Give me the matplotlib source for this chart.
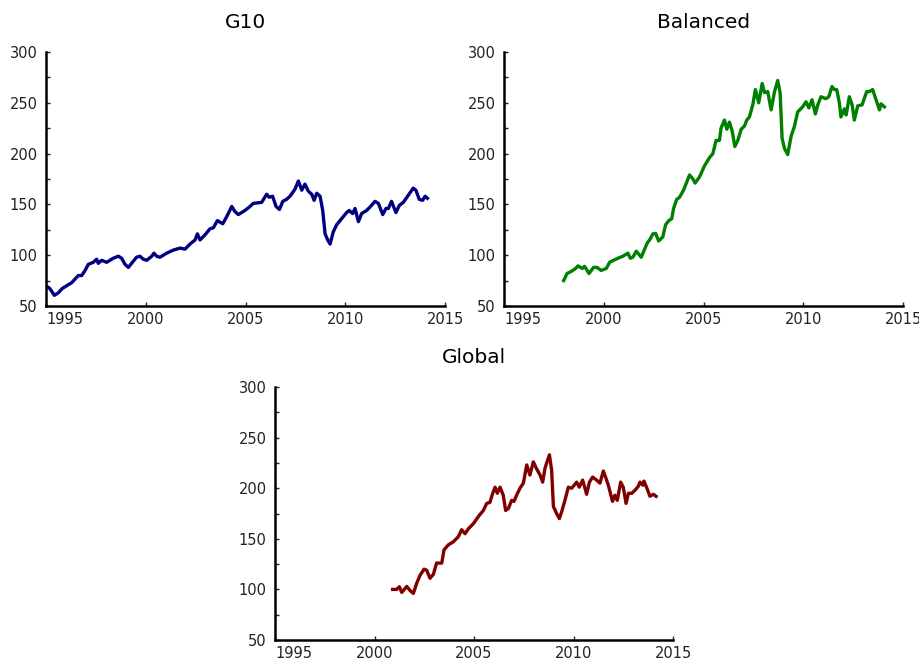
import matplotlib
matplotlib.use("Agg")
import matplotlib.pyplot as plt
from matplotlib.ticker import MultipleLocator

# ---- index levels (decimal year, value) ----
g10_years = [1995.0, 1995.2, 1995.42, 1995.62, 1995.8, 1996.04, 1996.29, 1996.62, 1996.79, 1996.96,
             1997.12, 1997.37, 1997.54, 1997.62, 1997.79, 1998.04, 1998.37, 1998.63, 1998.79, 1998.96,
             1999.13, 1999.29, 1999.54, 1999.71, 1999.88, 2000.05, 2000.3, 2000.41, 2000.55, 2000.71,
             2001.05, 2001.38, 2001.72, 2001.97, 2002.22, 2002.47, 2002.59, 2002.72, 2002.97, 2003.22,
             2003.39, 2003.59, 2003.86, 2004.06, 2004.31, 2004.47, 2004.64, 2004.97, 2005.23, 2005.39,
             2005.81, 2006.06, 2006.19, 2006.36, 2006.53, 2006.7, 2006.87, 2007.06, 2007.23, 2007.48,
             2007.65, 2007.82, 2007.98, 2008.15, 2008.32, 2008.44, 2008.57, 2008.74, 2008.87, 2008.99,
             2009.12, 2009.24, 2009.4, 2009.57, 2009.82, 2010.07, 2010.2, 2010.37, 2010.49, 2010.66,
             2010.82, 2011.07, 2011.27, 2011.49, 2011.66, 2011.88, 2012.04, 2012.16, 2012.32, 2012.54,
             2012.71, 2012.91, 2013.16, 2013.41, 2013.54, 2013.71, 2013.88, 2014.0, 2014.12]
g10_values = [70, 67, 60.5, 63, 67, 70, 73, 80, 80, 85,
              91, 93, 96, 92, 95, 93, 97, 99, 97, 91,
              88, 92, 98, 99, 96, 95, 99, 102, 99, 98,
              102, 105, 107, 106, 111, 115, 121, 115, 120, 126,
              127, 134, 131, 138, 148, 143, 140, 144, 148, 151,
              152, 160, 157, 158, 148, 145, 153, 155, 158, 165,
              173, 164, 170, 163, 160, 154, 161, 158, 144, 121,
              115, 111, 123, 130, 136, 142, 144, 141, 146, 133,
              141, 144, 148, 153, 151, 140, 146, 146, 153, 142,
              149, 152, 159, 166, 164, 155, 154, 158, 156]

balanced_years = [1997.99, 1998.16, 1998.37, 1998.59, 1998.71, 1998.92, 1999.04, 1999.26, 1999.49, 1999.66,
                  1999.87, 2000.13, 2000.29, 2000.49, 2000.71, 2000.96, 2001.21, 2001.33, 2001.46, 2001.63,
                  2001.88, 2002.05, 2002.18, 2002.33, 2002.46, 2002.6, 2002.75, 2002.96, 2003.1, 2003.26,
                  2003.41, 2003.5, 2003.66, 2003.8, 2004.0, 2004.3, 2004.47, 2004.58, 2004.8, 2005.05,
                  2005.3, 2005.47, 2005.63, 2005.8, 2005.88, 2006.05, 2006.17, 2006.3, 2006.44, 2006.57,
                  2006.72, 2006.89, 2007.05, 2007.17, 2007.3, 2007.47, 2007.6, 2007.77, 2007.94, 2008.06,
                  2008.22, 2008.39, 2008.56, 2008.72, 2008.84, 2008.94, 2009.06, 2009.22, 2009.39, 2009.56,
                  2009.72, 2009.97, 2010.14, 2010.28, 2010.44, 2010.61, 2010.73, 2010.89, 2011.14, 2011.28,
                  2011.44, 2011.56, 2011.68, 2011.81, 2011.89, 2012.06, 2012.15, 2012.31, 2012.45, 2012.56,
                  2012.73, 2012.95, 2013.18, 2013.31, 2013.48, 2013.65, 2013.82, 2013.9, 2014.07]
balanced_values = [75, 82, 84, 87, 89.5, 87, 89, 82, 88, 88,
                   85, 87, 93, 95, 97, 99, 102, 97, 98, 104,
                   98, 106, 112, 116, 121, 121.5, 114, 118, 130, 134,
                   136, 146, 155, 157, 164, 179, 175, 171, 177, 188,
                   196, 200, 213, 213, 225, 233, 224, 231, 222, 207,
                   213, 224, 227, 233, 236, 248, 263, 250, 269, 260,
                   261, 243, 261, 272, 260, 215, 205, 199, 217, 227,
                   241, 246, 251, 245, 253, 239, 248, 256, 254, 256,
                   266, 263, 263, 250, 236, 244, 238, 256, 248, 233,
                   247, 248, 261, 261, 263, 253, 243, 249, 246]

global_years = [2000.91, 2001.11, 2001.25, 2001.37, 2001.62, 2001.78, 2001.95, 2002.12, 2002.29, 2002.49,
                2002.62, 2002.79, 2002.96, 2003.12, 2003.38, 2003.49, 2003.71, 2003.96, 2004.21, 2004.38,
                2004.55, 2004.72, 2004.97, 2005.22, 2005.47, 2005.64, 2005.8, 2005.94, 2006.06, 2006.17,
                2006.31, 2006.47, 2006.59, 2006.73, 2006.89, 2007.01, 2007.14, 2007.31, 2007.48, 2007.65,
                2007.81, 2007.98, 2008.15, 2008.32, 2008.45, 2008.57, 2008.79, 2008.9, 2008.99, 2009.15,
                2009.29, 2009.41, 2009.57, 2009.74, 2009.91, 2010.16, 2010.29, 2010.46, 2010.66, 2010.8,
                2010.96, 2011.16, 2011.33, 2011.5, 2011.63, 2011.75, 2011.96, 2012.08, 2012.2, 2012.37,
                2012.5, 2012.64, 2012.76, 2012.93, 2013.09, 2013.26, 2013.34, 2013.48, 2013.54, 2013.71,
                2013.84, 2014.01, 2014.15]
global_values = [100, 100, 102.6, 97, 103, 99, 96, 106, 114, 120,
                 119, 111, 115, 126, 126, 139, 144, 147, 152, 159,
                 155, 160, 165, 172, 178, 185, 186, 195, 201, 195,
                 201, 193, 178, 180, 188, 187, 193, 200, 205, 223,
                 213, 226, 219, 213, 206, 220, 233, 218, 182, 175,
                 170, 177, 188, 201, 200, 206, 201, 208, 194, 206,
                 211, 208, 205, 217, 210, 203, 187, 193, 188, 206,
                 201, 185, 195, 195, 198, 202, 206, 203, 207, 199,
                 192, 194, 192]

titles = ["G10", "Balanced", "Global"]
x_ticks = [1995, 2000, 2005, 2010, 2015]
y_ticks = [50, 100, 150, 200, 250, 300]

series = [(g10_years, g10_values, "#000080"),
          (balanced_years, balanced_values, "#008000"),
          (global_years, global_values, "#800000")]

W, H = 920, 660
fig = plt.figure(figsize=(W / 100, H / 100), dpi=100)
plt.rcParams['font.family'] = ['DejaVu Sans']

# axes boxes in pixels: left, top, right, bottom
boxes = [(46, 52, 445, 306), (504, 52, 903, 306), (275, 387, 673, 640)]

for (xs, ys, col), title, (l, t, r, b) in zip(series, titles, boxes):
    ax = fig.add_axes([l / W, 1 - b / H, (r - l) / W, (b - t) / H])
    ax.plot(xs, ys, color=col, lw=2.4, solid_joinstyle='round')
    ax.set_xlim(1995, 2015)
    ax.set_ylim(50, 300)
    ax.set_xticks(x_ticks)
    ax.set_xticklabels([str(v) for v in x_ticks])
    ax.set_yticks(y_ticks)
    ax.yaxis.set_minor_locator(MultipleLocator(25))
    for s in ("top", "right"):
        ax.spines[s].set_visible(False)
    for s in ("left", "bottom"):
        ax.spines[s].set_linewidth(1.8)
        ax.spines[s].set_color("black")
    ax.tick_params(axis="both", which="both", direction="in", length=3, width=1,
                   labelsize=10.5, colors="#222222")
    ax.tick_params(axis="y", pad=6)
    ax.tick_params(axis="x", pad=4)
    ax.get_xticklabels()[0].set_horizontalalignment("left")
    ax.set_title(title, fontsize=14.5, pad=17)

fig.savefig("out.png", dpi=100)
